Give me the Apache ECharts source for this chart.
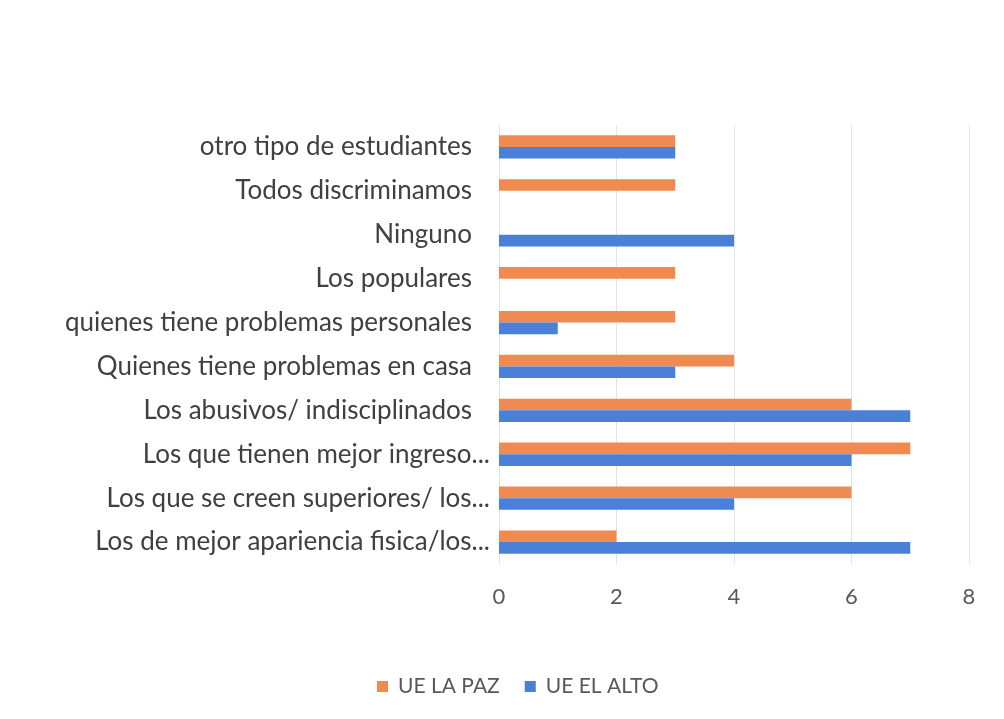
<!DOCTYPE html>
<html>
<head>
<meta charset="utf-8">
<script src="https://cdn.jsdelivr.net/npm/echarts@6/dist/echarts.min.js"></script>
<style>
html,body{margin:0;padding:0;background:#fff;}
#chart{width:1004px;height:719px;}
</style>
</head>
<body>
<div id="chart"></div>
<script>
// categorias de abajo hacia arriba
var categorias = [
	'Los de mejor apariencia fisica/los...',
	'Los que se creen superiores/ los...',
	'Los que tienen mejor ingreso...',
	'Los abusivos/ indisciplinados',
	'Quienes tiene problemas en casa',
	'quienes tiene problemas personales',
	'Los populares',
	'Ninguno',
	'Todos discriminamos',
	'otro tipo de estudiantes'
];
var laPaz  = [2, 6, 7, 6, 4, 3, 3, 0, 3, 3];
var elAlto = [7, 4, 6, 7, 3, 1, 0, 4, 0, 3];
var ticks  = [0, 2, 4, 6, 8];

var myChart = echarts.init(document.getElementById('chart'));
var option = {
	backgroundColor: '#fff',
	textStyle: { fontFamily: 'Lato' },
	grid: { left: 499, right: 35, top: 125, bottom: 155 },
	legend: {
		bottom: 17,
		left: 372,
		itemWidth: 11,
		itemHeight: 11,
		itemGap: 25,
		icon: 'rect',
		textStyle: { fontSize: 21, color: '#595959', fontFamily: 'Lato', padding: [0, 0, 0, 5] },
		data: ['UE LA PAZ', 'UE EL ALTO']
	},
	xAxis: {
		type: 'value',
		min: ticks[0],
		max: ticks[ticks.length - 1],
		interval: 2,
		axisLine: { show: false },
		axisTick: { show: false },
		splitLine: { lineStyle: { color: '#e4e4e4', width: 1 } },
		axisLabel: { fontSize: 22, color: '#595959', margin: 22 }
	},
	yAxis: {
		type: 'category',
		data: categorias,
		axisLine: { show: true, lineStyle: { color: '#e4e4e4' } },
		axisTick: { show: false },
		axisLabel: {
			margin: 9,
			formatter: function (v) {
				// las etiquetas recortadas llegan mas cerca del eje
				return v.slice(-3) === '...' ? '{c|' + v + '}' : '{s|' + v + '}';
			},
			rich: {
				c: { fontSize: 26, color: '#404040', fontFamily: 'Lato' },
				s: { fontSize: 26, color: '#404040', fontFamily: 'Lato', padding: [0, 18, 0, 0] }
			}
		}
	},
	series: [
		{
			name: 'UE LA PAZ',
			type: 'bar',
			data: laPaz,
			itemStyle: { color: '#EF8B50' },
			barGap: '0%',
			barCategoryGap: '47%'
		},
		{
			name: 'UE EL ALTO',
			type: 'bar',
			data: elAlto,
			itemStyle: { color: '#4A80D8' }
		}
	]
};
myChart.setOption(option);
</script>
</body>
</html>
